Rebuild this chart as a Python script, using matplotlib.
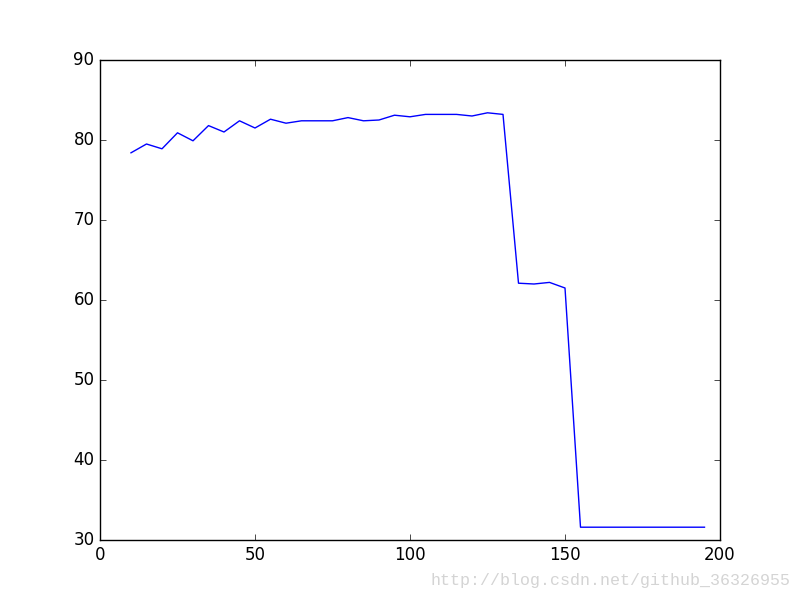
import numpy as np
import matplotlib
matplotlib.use('Agg')
import matplotlib.pyplot as plt

plt.style.use('classic')

# x values (step of 5) and the measured accuracy at each
x_vals = list(range(10, 200, 5))
acc = [78.4, 79.5, 78.9, 80.9, 79.9, 81.8, 81.0, 82.4, 81.5, 82.6,
       82.1, 82.4, 82.4, 82.4, 82.8, 82.4, 82.5, 83.1, 82.9, 83.2,
       83.2, 83.2, 83.0, 83.4, 83.2, 62.1, 62.0, 62.2, 61.5, 31.6,
       31.6, 31.6, 31.6, 31.6, 31.6, 31.6, 31.6, 31.6]

watermark = 'http://blog.csdn.net/github_36326955'

fig = plt.figure(figsize=(8, 6), dpi=100)
ax = fig.add_subplot(111)
ax.plot(x_vals, acc, color='b', linewidth=1)
ax.set_xlim(0, 200)
ax.set_ylim(30, 90)

fig.text(0.9875, 0.033, watermark, ha='right', va='center',
         fontsize=12, color='#d4d4d4', family='Liberation Mono')

fig.savefig('out.png', dpi=100, facecolor='white')
